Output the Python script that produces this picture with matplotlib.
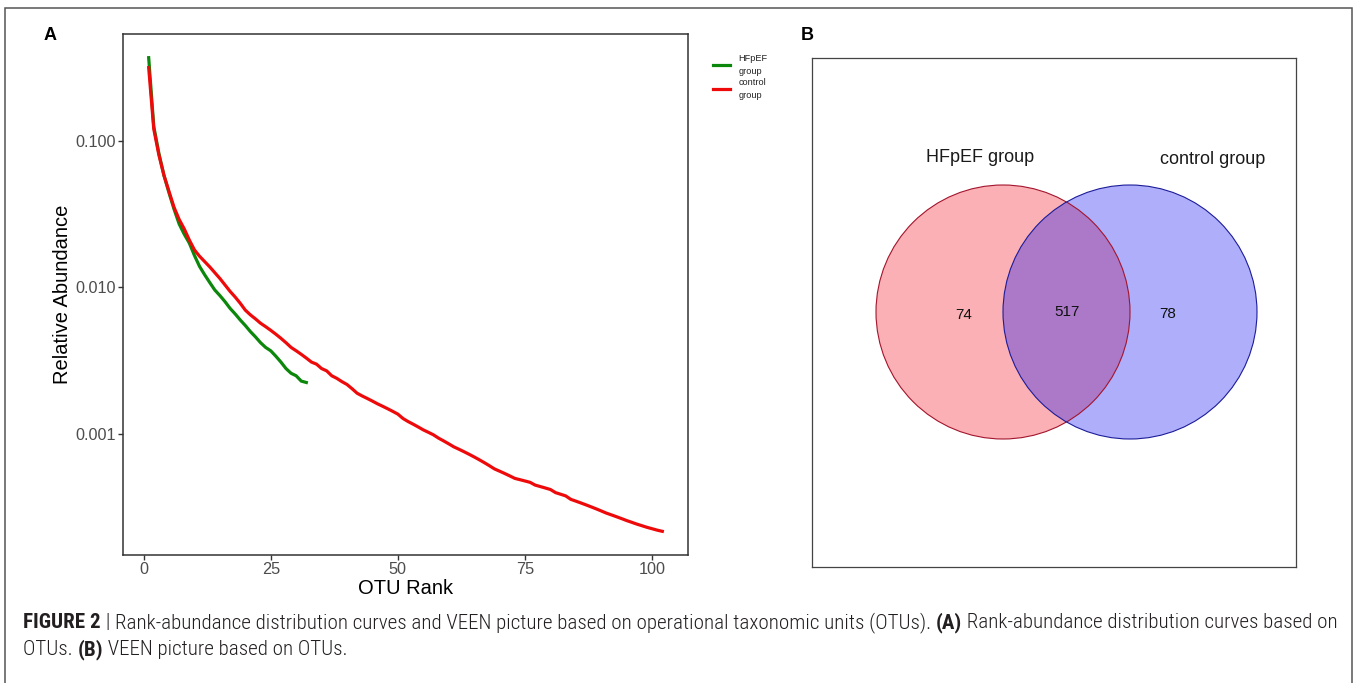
import matplotlib
matplotlib.use('Agg')
import matplotlib.pyplot as plt
from matplotlib import font_manager
from matplotlib.patches import Circle, Rectangle
import matplotlib.ticker as mticker
import numpy as np

W, H, DPI = 1358, 683, 100

# ---------------- data ----------------
otu_rank_hfpef = list(range(1, 33))
abund_hfpef = [0.367, 0.125, 0.082, 0.058, 0.044, 0.034, 0.027, 0.023, 0.020, 0.0165,
               0.0139, 0.0122, 0.0108, 0.0096, 0.0088, 0.0080, 0.0072, 0.0066, 0.0060, 0.0055,
               0.0050, 0.0046, 0.0042, 0.0039, 0.0037, 0.0034, 0.0031, 0.0028, 0.0026, 0.0025,
               0.0023, 0.00225]
otu_rank_control = list(range(1, 103))
abund_control = [0.314, 0.120, 0.080, 0.058, 0.045, 0.035, 0.029, 0.025, 0.021, 0.018,
                 0.0163, 0.0150, 0.0138, 0.0126, 0.0115, 0.0104, 0.0094, 0.0086, 0.0078, 0.0070,
                 0.0065, 0.0061, 0.0057, 0.0054, 0.0051, 0.0048, 0.0045, 0.0042, 0.0039, 0.0037,
                 0.0035, 0.0033, 0.0031, 0.0030, 0.0028, 0.0027, 0.0025, 0.0024, 0.00228, 0.00218,
                 0.00204, 0.00190, 0.00182, 0.00175, 0.00168, 0.00161, 0.00155, 0.00149, 0.00143, 0.00137,
                 0.00128, 0.00122, 0.00117, 0.00112, 0.00107, 0.00103, 0.00099, 0.00094, 0.00090, 0.00086,
                 0.00082, 0.00079, 0.00076, 0.00073, 0.00070, 0.00067, 0.00064, 0.00061, 0.00058, 0.00056,
                 0.00054, 0.00052, 0.00050, 0.00049, 0.00048, 0.00047, 0.00045, 0.00044, 0.00043, 0.00042,
                 0.00040, 0.00039, 0.00038, 0.00036, 0.00035, 0.00034, 0.00033, 0.00032, 0.00031, 0.00030,
                 0.000290, 0.000282, 0.000274, 0.000266, 0.000258, 0.000251, 0.000244, 0.000238, 0.000232, 0.000227,
                 0.000222, 0.000218]
series_labels = ['HFpEF\ngroup', 'control\ngroup']
series_colors = ['#0b870b', '#ee0a0a']
x_ticks = [0, 25, 50, 75, 100]
y_ticks = [0.001, 0.010, 0.100]
y_tick_labels = ['0.001', '0.010', '0.100']
x_title = 'OTU Rank'
y_title = 'Relative Abundance'

venn_set_names = ['HFpEF group', 'control group']
venn_only_a = 74
venn_shared = 517
venn_only_b = 78

caption_line1 = [('FIGURE 2', 'bold'), (' | ', 'normal'),
                 ('Rank-abundance distribution curves and VEEN picture based on operational taxonomic units (OTUs). ', 'normal'),
                 ('(A)', 'bold'), (' Rank-abundance distribution curves based on', 'normal')]
caption_line2 = [('OTUs. ', 'normal'), ('(B)', 'bold'), (' VEEN picture based on OTUs.', 'normal')]

# ---------------- fonts ----------------
avail = {f.name for f in font_manager.fontManager.ttflist}
def pick(*names):
    for n in names:
        if n in avail:
            return n
    return 'DejaVu Sans'
SANS = pick('Liberation Sans', 'Arimo', 'DejaVu Sans')
NARROW = pick('Liberation Sans Narrow', 'Roboto Condensed', 'DejaVu Sans Condensed', SANS)
plt.rcParams['font.family'] = [SANS, 'DejaVu Sans']

fig = plt.figure(figsize=(W / DPI, H / DPI), dpi=DPI)
fig.patch.set_facecolor('white')

def fx(x):
    return x / W

def fy(y):
    return 1 - y / H

# ---------------- outer frame ----------------
fig.add_artist(Rectangle((fx(5), fy(720)), (1352 - 5) / W, (720 - 8) / H,
                         transform=fig.transFigure, fill=False, ec='#555555', lw=1.1))

# ---------------- panel A ----------------
axA = fig.add_axes([fx(123), fy(555), (688 - 123) / W, (555 - 34) / H])
axA.plot(otu_rank_hfpef, abund_hfpef, color=series_colors[0], lw=2.3, label=series_labels[0])
axA.plot(otu_rank_control, abund_control, color=series_colors[1], lw=2.3, label=series_labels[1])
axA.set_yscale('log')
all_x = np.array(otu_rank_hfpef + otu_rank_control, dtype=float)
all_y = np.log10(np.array(abund_hfpef + abund_control))
dx = 0.05 * (all_x.max() - all_x.min())
dy = 0.05 * (all_y.max() - all_y.min())
axA.set_xlim(all_x.min() - dx, all_x.max() + dx)
axA.set_ylim(10 ** (all_y.min() - dy), 10 ** (all_y.max() + dy))
axA.xaxis.set_major_locator(mticker.FixedLocator(x_ticks))
axA.yaxis.set_major_locator(mticker.FixedLocator(y_ticks))
axA.yaxis.set_major_formatter(mticker.FixedFormatter(y_tick_labels))
axA.yaxis.set_minor_locator(mticker.NullLocator())
axA.tick_params(axis='both', which='major', length=3.6, width=1.0, color='#333333',
                labelcolor='#4d4d4d', labelsize=11.7, pad=1.8)
for s in axA.spines.values():
    s.set_color('#333333')
    s.set_linewidth(1.1)
axA.set_xlabel(x_title, fontsize=14.5, color='black', va='center')
axA.set_ylabel(y_title, fontsize=14.5, color='black', va='center')
axA.xaxis.set_label_coords((406 - 123) / 565, -(588 - 555) / 521)
axA.yaxis.set_label_coords(-(123 - 62) / 565, 0.5)

leg = axA.legend(loc='upper left', bbox_to_anchor=(fx(713), fy(54)), bbox_transform=fig.transFigure,
                 frameon=False, prop={'family': SANS, 'size': 6.6}, handlelength=1.9,
                 handletextpad=0.9, labelspacing=0.25, borderpad=0, borderaxespad=0)
for t in leg.get_texts():
    t.set_color('#222222')
    t.set_linespacing(1.55)

fig.text(fx(50), fy(36), 'A', fontsize=13, fontweight='bold', ha='center', va='center')
fig.text(fx(807), fy(35), 'B', fontsize=13, fontweight='bold', ha='center', va='center')

# ---------------- panel B (Venn) ----------------
bx0, by0, bx1, by1 = 812, 58, 1296, 567
axB = fig.add_axes([fx(bx0), fy(by1), (bx1 - bx0) / W, (by1 - by0) / H])
axB.set_xlim(0, bx1 - bx0)
axB.set_ylim(by1 - by0, 0)
axB.set_xticks([])
axB.set_yticks([])
for s in axB.spines.values():
    s.set_color('#444444')
    s.set_linewidth(0.9)

r = 127
ca = (191, 254)
cb = (318, 254)
axB.add_patch(Circle(ca, r, fc='#fab0b4', ec='none', zorder=1))
axB.add_patch(Circle(cb, r, fc=(5 / 255, 5 / 255, 242 / 255), alpha=0.32, ec='none', zorder=2))
axB.add_patch(Circle(ca, r, fill=False, ec='#a3142c', lw=0.8, zorder=3))
axB.add_patch(Circle(cb, r, fill=False, ec='#1c1c9a', lw=0.8, zorder=4))

axB.text(168, 99, venn_set_names[0], fontsize=13, ha='center', va='center', color='#1a1a1a')
axB.text(401, 101, venn_set_names[1], fontsize=13, ha='center', va='center', color='#1a1a1a')
axB.text(152, 257, str(venn_only_a), fontsize=11, ha='center', va='center', color='#111111', zorder=5)
axB.text(255, 254, str(venn_shared), fontsize=11, ha='center', va='center', color='#111111', zorder=5)
axB.text(356, 256, str(venn_only_b), fontsize=11, ha='center', va='center', color='#111111', zorder=5)

# ---------------- caption ----------------
renderer = fig.canvas.get_renderer()
CAP_W = {'bold': 'bold', 'normal': 'light'}

def run_width(txt, wt, size):
    t1 = fig.text(0, 0, txt + '|', fontsize=size, fontweight=CAP_W[wt], family=[NARROW, 'DejaVu Sans'])
    t2 = fig.text(0, 0, '|', fontsize=size, fontweight=CAP_W[wt], family=[NARROW, 'DejaVu Sans'])
    w = t1.get_window_extent(renderer).width - t2.get_window_extent(renderer).width
    t1.remove()
    t2.remove()
    return w

def draw_runs(x0, ybase, runs, size, color='#231f20'):
    x = x0
    for txt, wt in runs:
        fig.text(fx(x), fy(ybase), txt, fontsize=size, fontweight=CAP_W[wt], family=[NARROW, 'DejaVu Sans'],
                 ha='left', va='baseline', color=color)
        x += run_width(txt, wt, size)

s0 = 10.0
w0 = sum(run_width(t, w, s0) for t, w in caption_line1)
cap_size = s0 * (1337 - 23) / w0
draw_runs(23, 628, caption_line1, cap_size)
draw_runs(23, 655, caption_line2, cap_size)

fig.savefig('out.png', dpi=DPI, facecolor='white')
